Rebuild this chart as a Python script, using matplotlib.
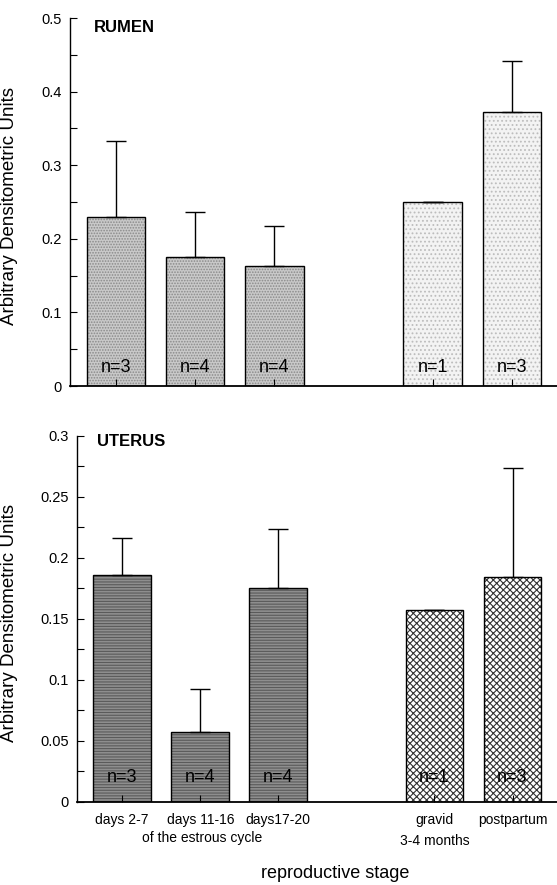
import numpy as np
import matplotlib.pyplot as plt
from matplotlib.transforms import blended_transform_factory

plt.rcParams['font.family'] = ['Liberation Sans', 'DejaVu Sans']
plt.rcParams['hatch.linewidth'] = 0.8

# data
positions = [0, 1, 2, 4, 5]
stage_labels = ["days 2-7", "days 11-16", "days17-20", "gravid\n3-4 months", "postpartum"]
n_labels = ["n=3", "n=4", "n=4", "n=1", "n=3"]

rumen_mean = [0.230, 0.176, 0.163, 0.250, 0.373]
rumen_err = [0.103, 0.061, 0.055, 0.0, 0.069]

uterus_mean = [0.186, 0.057, 0.175, 0.157, 0.184]
uterus_err = [0.030, 0.036, 0.049, 0.0, 0.090]

rumen_ticks = [0, 0.1, 0.2, 0.3, 0.4, 0.5]
rumen_ticklabels = ["0", "0.1", "0.2", "0.3", "0.4", "0.5"]
uterus_ticks = [0, 0.05, 0.1, 0.15, 0.2, 0.25, 0.3]
uterus_ticklabels = ["0", "0.05", "0.1", "0.15", "0.2", "0.25", "0.3"]

W = 0.74

fig = plt.figure(figsize=(5.57, 8.85), dpi=100)
ax1 = fig.add_axes([0.1257, 0.5638, 0.8743, 0.4158])
ax2 = fig.add_axes([0.1382, 0.0938, 0.8618, 0.4136])


def style(ax, ticks, labels, ymax, minor):
    ax.set_ylim(0, ymax)
    ax.set_xlim(-0.58, 5.57)
    for s in ["top", "right"]:
        ax.spines[s].set_visible(False)
    ax.spines["left"].set_linewidth(1.0)
    ax.spines["bottom"].set_linewidth(1.3)
    ax.set_yticks(ticks)
    ax.set_yticklabels(labels, fontsize=10.5)
    ax.set_yticks(minor, minor=True)
    ax.tick_params(axis="y", which="both", direction="in", length=5, width=0.8, pad=6)
    ax.set_xticks(positions)
    ax.tick_params(axis="x", direction="in", length=5, width=0.8)
    ax.set_ylabel("Arbitrary Densitometric Units", fontsize=13.5)


def draw_bars(ax, idx, mean, face, hatch, hcolor):
    xs = [positions[i] for i in idx]
    ys = [mean[i] for i in idx]
    ax.bar(xs, ys, W, color=face, hatch=hatch, edgecolor=hcolor, linewidth=0, zorder=1)
    ax.bar(xs, ys, W, facecolor="none", edgecolor="black", linewidth=1.0, zorder=2)


# RUMEN
draw_bars(ax1, [0, 1, 2], rumen_mean, "#c9c9c9", "......", "#8a8a8a")
draw_bars(ax1, [3, 4], rumen_mean, "#f3f3f3", "....", "#bdbdbd")
ax1.errorbar(positions, rumen_mean, yerr=[np.zeros(5), rumen_err], fmt="none",
             ecolor="black", elinewidth=1.0, capsize=7, capthick=1.0, zorder=3)
style(ax1, rumen_ticks, rumen_ticklabels, 0.5, np.arange(0.05, 0.5, 0.1))
ax1.set_xticklabels([])
ax1.yaxis.set_label_coords(-0.107, 0.49)
ax1.text(0.05, 0.975, "RUMEN", transform=ax1.transAxes, fontsize=12,
         fontweight="bold", va="center", ha="left")
tr1 = blended_transform_factory(ax1.transData, ax1.transAxes)
for x, lab in zip(positions, n_labels):
    ax1.text(x, 0.05, lab, transform=tr1, ha="center", va="center", fontsize=13, zorder=4)

# UTERUS
draw_bars(ax2, [0, 1, 2], uterus_mean, "#8e8e8e", "------", "#5a5a5a")
draw_bars(ax2, [3, 4], uterus_mean, "white", "xxxxx", "#333333")
ax2.errorbar(positions, uterus_mean, yerr=[np.zeros(5), uterus_err], fmt="none",
             ecolor="black", elinewidth=1.0, capsize=7, capthick=1.0, zorder=3)
style(ax2, uterus_ticks, uterus_ticklabels, 0.3, np.arange(0.025, 0.3, 0.05))
ax2.set_xticklabels(stage_labels, fontsize=10, linespacing=1.6)
ax2.tick_params(axis="x", pad=8)
ax2.yaxis.set_label_coords(-0.123, 0.49)
ax2.text(0.042, 0.985, "UTERUS", transform=ax2.transAxes, fontsize=12,
         fontweight="bold", va="center", ha="left")
tr2 = blended_transform_factory(ax2.transData, ax2.transAxes)
for x, lab in zip(positions, n_labels):
    ax2.text(x, 0.066, lab, transform=tr2, ha="center", va="center", fontsize=13, zorder=4)

fig.text(202 / 557, 1 - 838 / 885, "of the estrous cycle", ha="center", va="center", fontsize=10)
fig.text(335 / 557, 1 - 873 / 885, "reproductive stage", ha="center", va="center", fontsize=13)

fig.savefig("out.png", dpi=100)
